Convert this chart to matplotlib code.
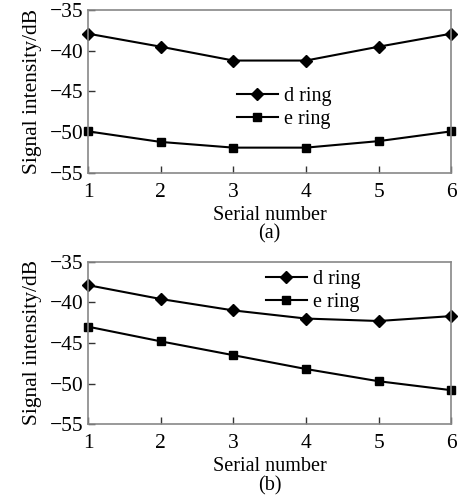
import matplotlib
matplotlib.use('Agg')
import matplotlib.pyplot as plt

serial = [1, 2, 3, 4, 5, 6]
d_ring_a = [-37.9, -39.5, -41.2, -41.2, -39.5, -37.9]
e_ring_a = [-49.9, -51.2, -51.9, -51.9, -51.1, -49.9]
d_ring_b = [-37.9, -39.6, -41.0, -42.0, -42.3, -41.7]
e_ring_b = [-43.0, -44.8, -46.5, -48.2, -49.7, -50.8]
yticks = [-55, -50, -45, -40, -35]

plt.rcParams['font.family'] = ['Liberation Serif', 'DejaVu Serif']
plt.rcParams['font.size'] = 15

fig = plt.figure(figsize=(4.59, 5.04), dpi=100)

def panel(rect, d, e, caption, leg_pos):
    ax = fig.add_axes(rect)
    ax.plot(serial, d, color='black', lw=1.5, marker='D', ms=6, label='d ring')
    ax.plot(serial, e, color='black', lw=1.5, marker='s', ms=6, label='e ring')
    ax.set_xlim(1, 6)
    ax.set_ylim(-55, -35)
    ax.set_xticks(serial)
    ax.set_yticks(yticks)
    ax.set_yticklabels(['\u221255', '\u221250', '\u221245', '\u221240', '\u221235'])
    ax.tick_params(direction='in', length=5, width=1, color='#333333', labelsize=15.5)
    ax.tick_params(axis='x', pad=7)
    ax.tick_params(axis='y', pad=3)
    for s in ax.spines.values():
        s.set_color('#888888')
        s.set_linewidth(1.2)
    for m in ax.get_lines():
        m.set_clip_on(False)
    ax.set_ylabel('Signal intensity/dB', labelpad=6, fontsize=15.5)
    ax.set_xlabel('Serial number', labelpad=3, fontsize=14.5)
    ax.legend(loc='center', bbox_to_anchor=leg_pos, frameon=False,
              handlelength=2.0, handletextpad=0.3, labelspacing=0.2,
              borderpad=0, fontsize=14.5)
    ax.text(0.5, -0.375, caption, transform=ax.transAxes, ha='center', va='center', fontsize=14.5)
    return ax

panel([0.192, 0.657, 0.791, 0.323], d_ring_a, e_ring_a, '(a)', (0.54, 0.40))
panel([0.192, 0.158, 0.791, 0.323], d_ring_b, e_ring_b, '(b)', (0.62, 0.82))

fig.savefig('out.png', dpi=100)
